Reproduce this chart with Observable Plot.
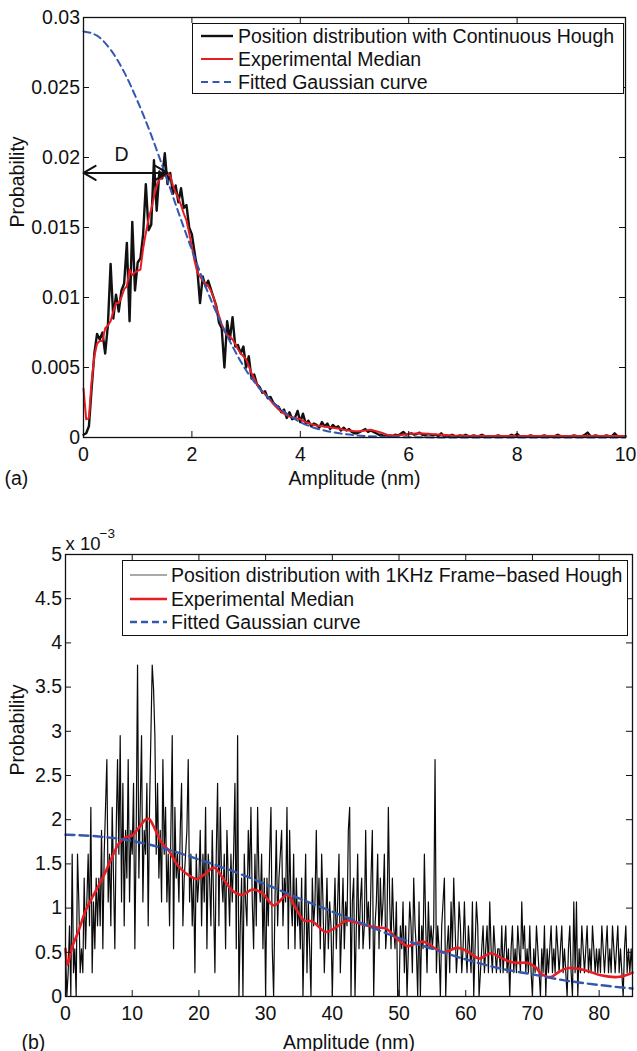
<!DOCTYPE html>
<html><head><meta charset="utf-8">
<script src="https://cdn.jsdelivr.net/npm/d3@7"></script>
<script src="https://cdn.jsdelivr.net/npm/@observablehq/plot@0.6"></script>
<style>
html,body{margin:0;padding:0;background:#fff;overflow:hidden;}
#wrap{position:relative;width:637px;height:1051px;font-family:"Liberation Sans",Arial,Helvetica,sans-serif;color:#111;}
#wrap svg{display:block;}
.legend{position:absolute;background:#fff;border:1.3px solid #111;box-sizing:border-box;font-size:19.5px;color:#111;}
.legend .row{position:absolute;left:0;height:22px;display:flex;align-items:center;white-space:nowrap;}
.legend .row svg{display:block;}
</style></head><body><div id="wrap"></div>
<script>
// ---------------- Panel (a) data: probability in units of 1e-3 ----------------
const topStep = 0.05; // nm between samples of the raw distribution
const topBlack = [
0.2,0.3,0.8,3.5,6.0,7.4,7.0,7.5,6.0,8.0,
12.4,8.5,10.2,9.0,10.5,11.0,13.9,8.3,15.4,10.5,
12.5,12.8,14.5,18.1,14.8,15.2,19.8,16.2,19.0,18.5,
20.3,18.1,18.9,17.4,18.0,16.8,17.8,16.4,16.6,15.0,
14.5,13.2,12.0,9.6,11.5,10.8,11.2,10.6,10.0,9.4,
8.2,7.8,5.0,8.3,7.0,8.6,6.5,6.6,6.0,6.5,
5.0,5.8,4.2,4.5,3.8,3.6,3.2,3.3,2.8,2.9,
2.5,2.3,2.2,1.8,2.0,1.4,1.8,1.3,1.4,1.9,
1.1,1.7,1.0,1.2,0.8,1.0,0.9,0.7,1.1,0.8,
1.0,0.6,0.9,0.7,0.8,0.5,0.7,0.5,0.6,0.4,
0.3,0.3,0.4,0.5,0.6,0.4,0.5,0.4,0.3,0.2,
0.2,0.1,0.1,0.15,0.1,0.2,0.15,0.25,0.4,0.2,
0.25,0.3,0.2,0.25,0.35,0.2,0.15,0.25,0.2,0.15,
0.2,0.1,0.3,0.1,0.15,0.1,0.2,0.1,0.1,0.15,
0.1,0.2,0.1,0.1,0.15,0.1,0.1,0.2,0.1,0.1,
0.05,0.1,0.1,0.15,0.1,0.05,0.1,0.1,0.2,0.1,
0.25,0.1,0.05,0.1,0.1,0.15,0.1,0.05,0.1,0.1,
0.15,0.1,0.1,0.05,0.1,0.2,0.1,0.1,0.05,0.1,
0.1,0.15,0.1,0.05,0.1,0.2,0.35,0.1,0.1,0.15,
0.1,0.05,0.1,0.15,0.1,0.1,0.3,0.1,0.05,0.1,
0.1];
const topMedian = [[0,3.5],[0.05,1.3],[0.1,1.4],[0.15,4.0],[0.2,5.8],[0.25,6.7],[0.3,6.9],[0.35,6.9],[0.4,7.8],[0.45,8.0],[0.5,8.3],[0.55,9.0],[0.6,9.6],[0.65,9.6],[0.7,10.0],[0.75,10.6],[0.8,10.8],[0.85,12.0],[0.9,11.6],[0.95,11.8],[1.0,11.9],[1.05,12.0],[1.1,13.5],[1.15,14.6],[1.2,15.6],[1.25,16.3],[1.3,17.2],[1.35,18.0],[1.4,18.4],[1.45,18.6],[1.5,18.7],[1.55,18.9],[1.6,18.7],[1.65,18.0],[1.7,17.5],[1.75,17.1],[1.8,16.6],[1.85,16.0],[1.9,15.5],[1.95,14.6],[2.0,13.6],[2.05,12.6],[2.1,11.8],[2.15,11.5],[2.2,11.2],[2.25,11.0],[2.3,10.8],[2.35,10.5],[2.4,10.0],[2.45,9.3],[2.5,8.7],[2.55,8.1],[2.6,7.6],[2.65,7.3],[2.7,7.2],[2.75,7.0],[2.8,6.7],[2.85,6.3],[2.9,6.0],[2.95,5.8],[3.0,5.6],[3.05,5.1],[3.1,4.6],[3.15,4.2],[3.2,3.8],[3.25,3.5],[3.3,3.3],[3.4,2.9],[3.5,2.4],[3.6,2.0],[3.7,1.7],[3.8,1.5],[3.9,1.4],[4.0,1.3],[4.1,1.1],[4.2,0.95],[4.3,0.85],[4.4,0.8],[4.5,0.75],[4.6,0.7],[4.7,0.65],[4.8,0.55],[4.9,0.5],[5.0,0.45],[5.1,0.45],[5.2,0.5],[5.3,0.55],[5.4,0.45],[5.5,0.35],[5.6,0.2],[5.7,0.15],[5.8,0.15],[5.9,0.2],[6.0,0.25],[6.2,0.3],[6.4,0.25],[6.6,0.2],[6.8,0.15],[7.0,0.12],[7.5,0.1],[8.0,0.1],[8.5,0.1],[9.0,0.1],[9.5,0.1],[10,0.1]];
const topFit = [[0,29.0],[0.25,28.7],[0.5,27.7],[0.75,26.1],[1.0,24.0],[1.25,21.6],[1.5,18.9],[1.75,16.1],[2.0,13.4],[2.25,10.8],[2.5,8.5],[2.75,6.5],[3.0,4.8],[3.25,3.5],[3.5,2.5],[3.75,1.7],[4.0,1.1],[4.25,0.7],[4.5,0.45],[4.75,0.28],[5.0,0.17],[5.5,0.06],[6.0,0.02],[7,0],[8,0],[9,0],[10,0]];
const xTicksA = [0,2,4,6,8,10];
const yTicksA = [0,5,10,15,20,25,30];
const yTickLabelsA = ["0","0.005","0.01","0.015","0.02","0.025","0.03"];
const arrowSpanA = [0, 1.55];   // nm, ends of the double arrow "D"
const arrowLevelA = 18.9;      // 1e-3
const dLabelA = [{text: "D", x: 0.70, y: 20.2}];
const legendA = ["Position distribution with Continuous Hough", "Experimental Median", "Fitted Gaussian curve"];

// ---------------- Panel (b) data: probability in units of 1e-3 ----------------
const botStep = 0.2;
const botBlack = [
0.54,0,0.27,0.80,0,1.61,0.27,0.54,0,1.61,1.07,0.27,0.54,0.27,1.34,0.54,1.07,1.61,0.80,2.14,0.27,1.07,0.54,1.34,0.80,
1.34,0.80,1.88,0.54,1.61,2.14,2.68,1.07,1.61,0.80,2.14,1.34,0.54,1.88,2.68,1.61,2.95,1.07,2.41,0.80,1.88,1.34,2.68,1.07,1.88,
1.61,2.41,0.54,1.88,3.75,1.34,2.14,2.95,1.07,1.88,1.61,2.41,0.80,2.14,2.95,3.75,3.48,2.95,1.61,2.41,1.34,1.88,1.07,2.68,1.61,
2.14,1.07,1.61,0.80,1.88,2.95,0.54,2.14,1.34,1.61,1.07,1.88,2.41,0.80,1.34,1.61,1.88,2.68,1.07,1.61,0.80,1.34,0.27,1.61,1.07,
1.34,1.88,0.80,1.61,1.07,2.14,0.54,1.61,1.34,0.80,1.88,1.07,0.27,1.61,2.41,0.80,2.14,1.34,1.07,1.61,0.54,1.88,1.34,0.80,1.61,
1.07,1.61,2.41,0.54,2.95,0,0.80,1.34,0,1.61,1.07,0.80,1.88,1.34,2.14,1.07,0.54,1.61,0.80,2.14,1.34,1.07,1.61,0.54,1.34,
0,1.34,0.80,1.61,2.14,0.54,0,1.07,1.88,0.80,1.34,1.61,1.88,0.80,1.34,1.07,2.14,0.54,1.88,1.07,0.80,1.61,0.54,1.34,0.80,
1.07,0.54,1.34,0,0.80,1.61,0.27,1.07,0.54,0,1.34,0.80,1.07,1.88,0.80,1.34,0.54,1.61,1.07,0.27,0.80,1.34,0.54,1.07,0.80,
0,0.80,1.34,0.54,1.07,1.61,0.27,0.80,1.34,0.54,1.07,0.80,1.88,2.14,0,1.07,1.34,0,0.80,1.61,0.54,1.07,1.34,0.54,0.80,
1.88,0.80,1.07,0.54,1.34,1.88,0,0.80,1.07,1.61,0.54,1.34,0.80,1.07,1.61,0.54,0.80,2.14,1.07,0.54,1.34,0.80,0.54,1.07,0,
0,0.80,0.54,1.07,0.27,0.80,0,0.54,1.07,0.80,0.27,1.34,0.80,0.54,0,1.07,0,0.80,0.54,1.61,0.80,0.27,1.07,0.54,0.80,
0.54,0.80,2.68,0.27,0.80,0.54,0,0.80,1.07,1.34,0,0.54,0.80,0.27,1.07,0.54,1.34,0.80,0.27,0.54,1.07,0.80,0.27,0.54,1.07,
0.54,0.27,0.80,0.54,0.27,1.07,0,0.54,1.07,0.80,0,0.27,0.54,0.80,0.27,0.54,0.80,0.27,1.07,0.54,0.27,0.80,0.54,0.27,0.54,
0.54,0.27,0.80,0.27,0.54,0.80,0.27,0.54,0,0.54,0.80,0.27,0.54,0.27,0.80,0.54,0.27,1.07,0.54,0.80,0.27,0.54,0.27,0.80,0.27,
0,0.54,0.27,0.80,0.54,0.27,0,0.54,0.27,0.80,0,0.54,0.27,0.54,0.80,0.27,0.54,0.27,0.80,0.54,0.27,0.54,0.80,0.27,0.54,
0.27,0,0.54,0.80,0.27,0,1.07,0.27,1.07,0,0.54,0.27,0.80,0.54,0.27,0.54,0.80,0.27,0.54,0.27,0.80,0.54,0.27,0.54,0.27,
0.54,0.27,0.80,0.54,0.27,0.54,0.80,0.27,0.54,0.27,0.80,0.54,0.27,0.54,0.80,0.27,0.54,0.27,0,0.54,0.80,0.27,0.54,0.27,0.54,
0.27];
const botMedian = [[0,0.54],[0.3,0.36],[1,0.56],[2,0.75],[3,0.97],[4,1.12],[5,1.26],[6,1.41],[7,1.58],[8,1.73],[9,1.80],[10,1.82],[11,1.91],[12,2.0],[12.5,2.01],[13.5,1.88],[14.5,1.73],[15.5,1.65],[16.5,1.52],[17.5,1.43],[18.5,1.37],[19.75,1.33],[21,1.39],[22.25,1.46],[23.5,1.35],[25,1.20],[26.5,1.15],[28,1.21],[29.5,1.17],[31.25,1.03],[33.25,1.15],[34.5,1.00],[35.75,0.86],[37,0.85],[39,0.73],[40.5,0.78],[42.25,0.86],[44.25,0.82],[46.75,0.78],[48,0.77],[49.75,0.65],[51.25,0.57],[52.5,0.60],[53.75,0.62],[55.25,0.55],[56.75,0.50],[58.75,0.55],[60.5,0.50],[62,0.43],[63.75,0.49],[65.25,0.44],[66.75,0.39],[68,0.38],[69.25,0.38],[70.5,0.33],[71.25,0.26],[72.75,0.22],[74,0.28],[75.25,0.32],[77.75,0.30],[80.25,0.24],[82.75,0.22],[84,0.24],[85,0.27]];
const botFit = [[0,1.83],[5,1.81],[10,1.76],[15,1.67],[20,1.55],[25,1.42],[30,1.27],[35,1.11],[40,0.96],[45,0.81],[50,0.66],[55,0.54],[60,0.42],[65,0.32],[70,0.25],[75,0.18],[80,0.13],[85,0.09]];
const xTicksB = [0,10,20,30,40,50,60,70,80];
const yTicksB = [0,0.5,1,1.5,2,2.5,3,3.5,4,4.5,5];
const yTickLabelsB = ["0","0.5","1","1.5","2","2.5","3","3.5","4","4.5","5"];
const legendB = ["Position distribution with 1KHz Frame\u2212based Hough", "Experimental Median", "Fitted Gaussian curve"];

// ---------------- styles ----------------
const FONT = '"Liberation Sans", Arial, Helvetica, sans-serif';
const INK = "#111";
const RED = "#e81d23";
const BLUE = "#3457b0";
const TICK = 6;

function frameTicks(xTicks, yTicks, plotW, plotH) {
  return [
    Plot.tickX(xTicks, {x: d => d, insetTop: plotH - TICK, stroke: INK, strokeWidth: 1}),
    Plot.tickX(xTicks, {x: d => d, insetBottom: plotH - TICK, stroke: INK, strokeWidth: 1}),
    Plot.tickY(yTicks, {y: d => d, insetRight: plotW - TICK, stroke: INK, strokeWidth: 1}),
    Plot.tickY(yTicks, {y: d => d, insetLeft: plotW - TICK, stroke: INK, strokeWidth: 1})
  ];
}

// ---------------- Panel (a) ----------------
const A = {width: 637, height: 500, ml: 83, mr: 12, mt: 17, mb: 63};
const pwA = A.width - A.ml - A.mr, phA = A.height - A.mt - A.mb;
const blackA = topBlack.map((v, i) => ({x: Math.round(i * topStep * 100) / 100, y: v}));
const redA = topMedian.map(([x, y]) => ({x, y}));
const fitA = topFit.map(([x, y]) => ({x, y}));
const arrowsA = [{x1: (arrowSpanA[0] + arrowSpanA[1]) / 2, x2: arrowSpanA[0]}, {x1: (arrowSpanA[0] + arrowSpanA[1]) / 2, x2: arrowSpanA[1]}];

const plotA = Plot.plot({
  width: A.width, height: A.height,
  marginLeft: A.ml, marginRight: A.mr, marginTop: A.mt, marginBottom: A.mb,
  x: {domain: [0, 10]},
  y: {domain: [0, 30]},
  style: {fontFamily: FONT, fontSize: "19.5px", color: INK, background: "white", overflow: "visible"},
  marks: [
    Plot.line(blackA, {x: "x", y: "y", stroke: INK, strokeWidth: 2.4}),
    Plot.line(redA, {x: "x", y: "y", stroke: RED, strokeWidth: 2}),
    Plot.line(fitA, {x: "x", y: "y", stroke: BLUE, strokeWidth: 2, strokeDasharray: "7,4.5", curve: "monotone-x"}),
    Plot.arrow(arrowsA, {x1: "x1", x2: "x2", y1: arrowLevelA, y2: arrowLevelA, stroke: INK, strokeWidth: 2, headLength: 12, bend: 0, insetStart: 0, insetEnd: 0}),
    Plot.text(dLabelA, {x: "x", y: "y", text: "text", fontSize: 19.5, fill: INK}),
    Plot.frame({stroke: INK, strokeWidth: 1.3}),
    ...frameTicks(xTicksA, yTicksA, pwA, phA),
    Plot.axisX({ticks: xTicksA, tickSize: 0, tickPadding: 10, label: null, tickFormat: d => String(d), fontSize: 19.5}),
    Plot.axisY({ticks: yTicksA, tickSize: 0, tickPadding: 3.5, label: null, tickFormat: d => yTickLabelsA[yTicksA.indexOf(d)], fontSize: 19.5}),
    Plot.text(["Amplitude (nm)"], {frameAnchor: "bottom", dy: 41, lineAnchor: "middle", fontSize: 19.5, fill: INK}),
    Plot.text(["(a)"], {frameAnchor: "bottom-left", dx: -79, dy: 41, textAnchor: "start", lineAnchor: "middle", fontSize: 19.5, fill: INK}),
    Plot.text(["Probability"], {frameAnchor: "left", dx: -65.5, rotate: -90, lineAnchor: "middle", fontSize: 19.5, fill: INK})
  ]
});

// ---------------- Panel (b) ----------------
const B = {width: 637, height: 551, ml: 65, mr: 5, mt: 54, mb: 55};
const pwB = B.width - B.ml - B.mr, phB = B.height - B.mt - B.mb;
const blackB = botBlack.map((v, i) => ({x: Math.round(i * botStep * 10) / 10, y: v}));
const redB = botMedian.map(([x, y]) => ({x, y}));
const fitB = botFit.map(([x, y]) => ({x, y}));

const plotB = Plot.plot({
  width: B.width, height: B.height,
  marginLeft: B.ml, marginRight: B.mr, marginTop: B.mt, marginBottom: B.mb,
  x: {domain: [0, 85]},
  y: {domain: [0, 5]},
  style: {fontFamily: FONT, fontSize: "19.5px", color: INK, background: "white", overflow: "visible"},
  marks: [
    Plot.line(blackB, {x: "x", y: "y", stroke: "#0a0a0a", strokeWidth: 1.2}),
    Plot.line(redB, {x: "x", y: "y", stroke: RED, strokeWidth: 2.6, curve: "catmull-rom"}),
    Plot.line(fitB, {x: "x", y: "y", stroke: BLUE, strokeWidth: 2.4, strokeDasharray: "9,5", curve: "monotone-x"}),
    Plot.frame({stroke: INK, strokeWidth: 1.3}),
    ...frameTicks(xTicksB, yTicksB, pwB, phB),
    Plot.axisX({ticks: xTicksB, tickSize: 0, tickPadding: 10, label: null, tickFormat: d => String(d), fontSize: 19.5}),
    Plot.axisY({ticks: yTicksB, tickSize: 0, tickPadding: 3.5, label: null, tickFormat: d => yTickLabelsB[yTicksB.indexOf(d)], fontSize: 19.5}),
    Plot.text(["x 10"], {frameAnchor: "top-left", dx: 0, dy: -10, textAnchor: "start", lineAnchor: "middle", fontSize: 18.5, fill: INK}),
    Plot.text(["\u22123"], {frameAnchor: "top-left", dx: 34, dy: -21, textAnchor: "start", lineAnchor: "middle", fontSize: 13.5, fill: INK}),
    Plot.text(["Amplitude (nm)"], {frameAnchor: "bottom", dy: 46, lineAnchor: "middle", fontSize: 19.5, fill: INK}),
    Plot.text(["(b)"], {frameAnchor: "bottom-left", dx: -44, dy: 46, textAnchor: "start", lineAnchor: "middle", fontSize: 19.5, fill: INK}),
    Plot.text(["Probability"], {frameAnchor: "left", dx: -47.5, rotate: -90, lineAnchor: "middle", fontSize: 19.5, fill: INK})
  ]
});

const wrap = document.getElementById("wrap");
wrap.appendChild(plotA);
wrap.appendChild(plotB);

// ---------------- legends (HTML overlays inside the axes boxes) ----------------
function legend(labels, box, rows, sample, textLeft, styles) {
  const div = document.createElement("div");
  div.className = "legend";
  Object.assign(div.style, {left: box.left + "px", top: box.top + "px", width: box.width + "px", height: box.height + "px"});
  labels.forEach((lab, i) => {
    const row = document.createElement("div");
    row.className = "row";
    row.style.top = (rows[i] - 11) + "px";
    const s = styles[i];
    row.innerHTML = `<svg width="${textLeft}" height="22"><line x1="${sample[0]}" x2="${sample[1]}" y1="11" y2="11" stroke="${s.stroke}" stroke-width="${s.width}" ${s.dash ? `stroke-dasharray="${s.dash}"` : ""}/></svg><span>${lab}</span>`;
    div.appendChild(row);
  });
  wrap.appendChild(div);
}
legend(legendA, {left: 192, top: 23, width: 432, height: 71}, [12, 35, 58], [8, 40], 45,
  [{stroke: INK, width: 2.4}, {stroke: RED, width: 2}, {stroke: BLUE, width: 2, dash: "7,4.5"}]);
legend(legendB, {left: 122, top: 560, width: 506, height: 76}, [14, 38, 61], [7, 44], 48,
  [{stroke: "#555", width: 1.2}, {stroke: RED, width: 2.6}, {stroke: BLUE, width: 2.4, dash: "7,4"}]);
</script></body></html>
